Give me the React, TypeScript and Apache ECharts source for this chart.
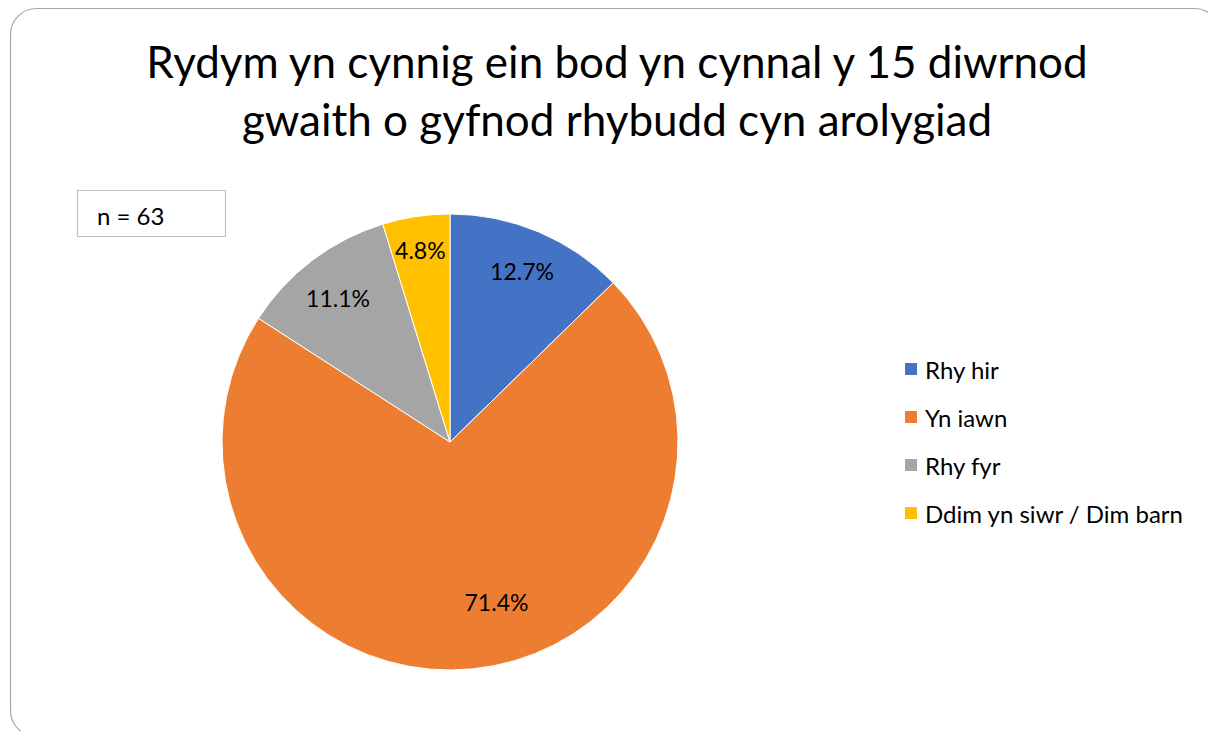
import React, { useEffect, useRef } from "react";
import * as echarts from "echarts";

const titleLines = ["Rydym yn cynnig ein bod yn cynnal y 15 diwrnod", "gwaith o gyfnod rhybudd cyn arolygiad"];
const categories = ["Rhy hir", "Yn iawn", "Rhy fyr", "Ddim yn siwr / Dim barn"];
const counts = [8, 45, 7, 3];
const colors = ["#4472C4", "#ED7D31", "#A5A5A5", "#FFC000"];
const sampleNote = "n = 63";
// small nudges of the percentage labels, as the source spreadsheet placed them
const labelNudges = [
  [0, 0],
  [28, -24],
  [0, 4],
  [-2, -9],
];

const FONT = "Lato, 'Open Sans', sans-serif";

export default function App() {
  const ref = useRef<HTMLDivElement>(null);
  useEffect(() => {
    if (!ref.current) return;
    const chart = echarts.init(ref.current, null, { renderer: "svg" });
    const total = counts.reduce((a, b) => a + b, 0);
    const data = categories.map((name, i) => ({ name, value: counts[i], itemStyle: { color: colors[i] } }));
    const R = 228;
    chart.setOption({
      animation: false,
      backgroundColor: "#ffffff",
      title: {
        text: titleLines.join("\n"),
        left: 612,
        textAlign: "center",
        top: 27,
        textStyle: { fontFamily: FONT, fontSize: 44, fontWeight: "normal", color: "#000", lineHeight: 58 },
      },
      legend: {
        orient: "vertical",
        left: 903,
        top: 355,
        padding: 0,
        icon: "rect",
        itemWidth: 14,
        itemHeight: 14,
        itemGap: 20,
        data: categories,
        textStyle: { fontFamily: FONT, fontSize: 24, color: "#000", lineHeight: 28, padding: [0, 0, 0, 2] },
      },
      graphic: [
        {
          type: "rect",
          shape: { x: 10.5, y: 8.5, width: 1210, height: 728, r: 26 },
          style: { fill: "none", stroke: "#a6a6a6", lineWidth: 1.2 },
          silent: true,
        },
        {
          type: "rect",
          shape: { x: 77.5, y: 190.5, width: 148, height: 46 },
          style: { fill: "#fff", stroke: "#bfbfbf", lineWidth: 1.2 },
        },
        {
          type: "text",
          x: 97,
          y: 215,
          style: { text: sampleNote, fontFamily: FONT, fontSize: 24, fill: "#000", verticalAlign: "middle" },
        },
      ],
      series: [
        {
          type: "pie",
          center: [450, 442],
          radius: [0, R],
          startAngle: 90,
          clockwise: true,
          data,
          label: { show: false },
          labelLine: { show: false },
          itemStyle: { borderColor: "#fff", borderWidth: 1 },
          emphasis: { disabled: true },
        },
        {
          type: "pie",
          center: [450, 442],
          radius: [R * 0.6, R],
          startAngle: 90,
          clockwise: true,
          silent: true,
          data: categories.map((name, i) => ({ name, value: counts[i], itemStyle: { color: "rgba(0,0,0,0)" } })),
          legendHoverLink: false,
          label: {
            show: true,
            position: "inside",
            formatter: (p: any) => ((p.value / total) * 100).toFixed(1) + "%",
            fontFamily: FONT,
            fontSize: 23,
            color: "#000",
          },
          labelLayout: (p: any) => ({ dx: labelNudges[p.dataIndex][0], dy: labelNudges[p.dataIndex][1] }),
          labelLine: { show: false },
          emphasis: { disabled: true },
        },
      ],
    });
    return () => chart.dispose();
  }, []);
  return <div ref={ref} style={{ position: "absolute", left: 0, top: 0, width: 1208, height: 731 }} />;
}
